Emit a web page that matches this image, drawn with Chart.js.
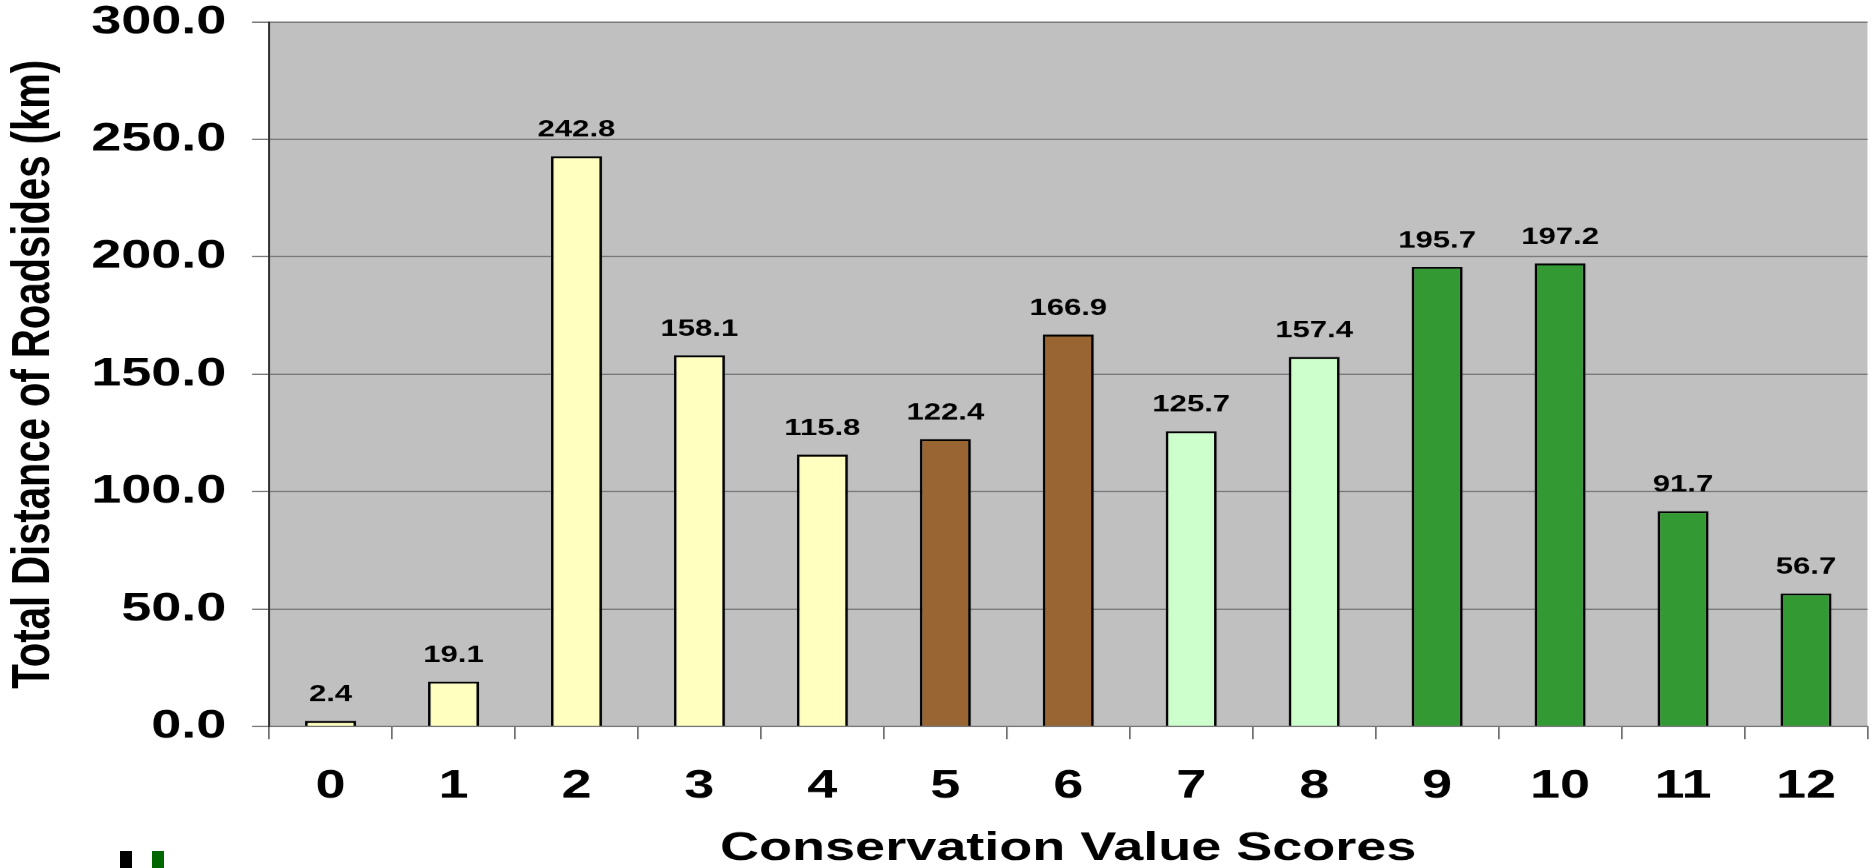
<!DOCTYPE html>
<html>
<head>
<meta charset="utf-8">
<title>Conservation Value Scores</title>
<script src="https://cdn.jsdelivr.net/npm/chart.js@4.4.1/dist/chart.umd.min.js"></script>
<style>
  html, body { margin: 0; padding: 0; background: #fff; overflow: hidden; }
  body { width: 1872px; height: 868px; position: relative; }
  /* the original slide stretched the chart sideways, so we draw narrow and widen it */
  #wrap { position: absolute; left: 0; top: 0; width: 1387px; height: 868px;
          transform: scaleX(1.34968); transform-origin: 0 0; }
  .logo { position: absolute; top: 851px; width: 12px; height: 17px; }
</style>
</head>
<body>
<div id="wrap"><canvas id="cvChart"></canvas></div>
<div class="logo" style="left:120px;background:#000"></div>
<div class="logo" style="left:152px;background:#006600"></div>
<script>
const scores = ["0", "1", "2", "3", "4", "5", "6", "7", "8", "9", "10", "11", "12"];
const distanceKm = [2.4, 19.1, 242.8, 158.1, 115.8, 122.4, 166.9, 125.7, 157.4, 195.7, 197.2, 91.7, 56.7];
const barColors = [
  "#FFFFC0", "#FFFFC0", "#FFFFC0", "#FFFFC0", "#FFFFC0",
  "#996633", "#996633",
  "#CCFFCC", "#CCFFCC",
  "#339933", "#339933", "#339933", "#339933",
];
const yTicks = [0, 50, 100, 150, 200, 250, 300];

const FONT = "'Liberation Sans', Arial, sans-serif";

// grey plot background like the Excel default
const plotBg = {
  id: "plotBg",
  beforeDraw(chart) {
    const { ctx, chartArea: a } = chart;
    ctx.save();
    ctx.fillStyle = "#C0C0C0";
    ctx.fillRect(a.left, a.top, a.right - a.left, a.bottom - a.top);
    ctx.restore();
  },
};

// value labels above each bar
const barLabels = {
  id: "barLabels",
  afterDatasetsDraw(chart) {
    const { ctx } = chart;
    const meta = chart.getDatasetMeta(0);
    ctx.save();
    ctx.font = `bold 23px ${FONT}`;
    ctx.fillStyle = "#000";
    ctx.textAlign = "center";
    ctx.textBaseline = "middle";
    meta.data.forEach((bar, i) => {
      ctx.fillText(distanceKm[i].toFixed(1), bar.x, bar.y - 26);
    });
    ctx.restore();
  },
};

new Chart(document.getElementById("cvChart"), {
  type: "bar",
  data: {
    labels: scores,
    datasets: [{
      data: distanceKm,
      backgroundColor: barColors,
      borderColor: "#000",
      borderWidth: 2,
      barPercentage: 0.415,
      categoryPercentage: 1,
    }],
  },
  options: {
    responsive: true,
    maintainAspectRatio: false,
    animation: false,
    devicePixelRatio: 1.35,
    layout: { padding: { top: 22, right: 0, left: 0, bottom: 0 } },
    plugins: { legend: { display: false }, tooltip: { enabled: false } },
    scales: {
      x: {
        grid: { drawOnChartArea: false, drawTicks: true, tickLength: 12.7, color: "#666", lineWidth: 1.2 },
        border: { color: "#777", width: 1.5 },
        ticks: { color: "#000", padding: 27, font: { family: FONT, size: 40, weight: "bold", lineHeight: 1 } },
        title: {
          display: true, text: "Conservation Value Scores", color: "#000",
          padding: { top: 0, bottom: 0 },
          font: { family: FONT, size: 40, weight: "bold", lineHeight: 1 },
        },
        afterFit(s) { s.height = 142; },
      },
      y: {
        min: 0, max: 300,
        afterBuildTicks(s) { s.ticks = yTicks.map(v => ({ value: v })); },
        grid: { color: "#7a7a7a", lineWidth: 1.5, tickLength: 12.6 },
        border: { color: "#333", width: 1.5 },
        ticks: {
          color: "#000", padding: 19,
          font: { family: FONT, size: 40, weight: "bold", lineHeight: 1 },
          callback: v => Number(v).toFixed(1),
        },
        title: {
          display: true, text: "Total Distance of Roadsides (km)", color: "#000",
          padding: { top: 5, bottom: 0 },
          font: { family: FONT, size: 40, weight: "bold", lineHeight: 1 },
        },
        afterFit(s) { s.width = 199.3; s.paddingTop = 0; s.paddingBottom = 0; },
      },
    },
  },
  plugins: [plotBg, barLabels],
});
</script>
</body>
</html>
